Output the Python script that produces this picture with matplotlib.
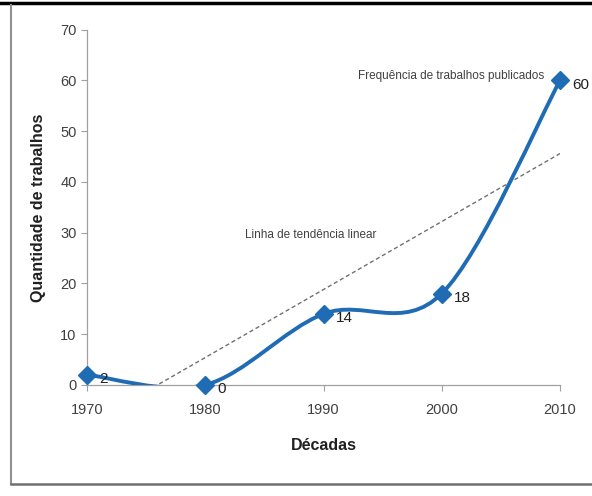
import numpy as np
import matplotlib
matplotlib.use("Agg")
import matplotlib.pyplot as plt
from matplotlib.path import Path
from matplotlib.patches import PathPatch
from matplotlib.lines import Line2D

decadas = [1970, 1980, 1990, 2000, 2010]
trabalhos = [2, 0, 14, 18, 60]
rotulos = ["2", "0", "14", "18", "60"]

plt.rcParams['font.family'] = ['Liberation Sans Narrow', 'Liberation Sans', 'DejaVu Sans']

azul = "#1F6CB5"
cinza = "#404040"

fig = plt.figure(figsize=(5.92, 4.96), dpi=100)
ax = fig.add_axes([0.147, 0.224, 0.799, 0.716])

x = np.array(decadas, dtype=float)
y = np.array(trabalhos, dtype=float)

# curva suavizada (bezier cubica, estilo Excel)
verts = [(x[0], y[0])]
codes = [Path.MOVETO]
n = len(x)
for i in range(n - 1):
    p0 = np.array([x[max(i - 1, 0)], y[max(i - 1, 0)]])
    p1 = np.array([x[i], y[i]])
    p2 = np.array([x[i + 1], y[i + 1]])
    p3 = np.array([x[min(i + 2, n - 1)], y[min(i + 2, n - 1)]])
    c1 = p1 + (p2 - p0) / 6.0
    c2 = p2 - (p3 - p1) / 6.0
    verts += [tuple(c1), tuple(c2), tuple(p2)]
    codes += [Path.CURVE4] * 3
curva = PathPatch(Path(verts, codes), facecolor="none", edgecolor=azul, lw=2.8, zorder=3)
ax.add_patch(curva)
ax.plot(x, y, linestyle="none", marker="D", markersize=9, color=azul, zorder=4, clip_on=False)

# linha de tendencia linear
coef = np.polyfit(np.arange(n), y, 1)
xt = np.linspace(0, n - 1, 200)
ax.plot(x[0] + xt * 10, np.polyval(coef, xt), linestyle="--", color="#707070", lw=1.0,
        dashes=(3, 2), zorder=2)

for xi, yi, r in zip(x, y, rotulos):
    ax.annotate(r, (xi, yi), xytext=(9, -3), textcoords="offset points", fontsize=11,
                color="#202020", va="center", ha="left")

ax.text(1983.4, 29.5, "Linha de tendência linear", fontsize=8.5, color=cinza, ha="left", va="center")
ax.text(2008.7, 60.8, "Frequência de trabalhos publicados", fontsize=8.5, color=cinza, ha="right", va="center")

ax.set_xlim(1970, 2010)
ax.set_ylim(0, 70)
ax.set_xticks(decadas)
ax.set_yticks(range(0, 71, 10))
ax.tick_params(colors="#A0A0A0", labelcolor=cinza, labelsize=10.5, length=4, width=0.8)
ax.tick_params(axis="x", pad=9)
for s in ["top", "right"]:
    ax.spines[s].set_visible(False)
for s in ["left", "bottom"]:
    ax.spines[s].set_color("#A0A0A0")
    ax.spines[s].set_linewidth(0.9)

ax.set_xlabel("Décadas", fontsize=11.5, fontweight="bold", color="#202020",
              family=['Liberation Sans', 'DejaVu Sans'], labelpad=15)
ax.set_ylabel("Quantidade de trabalhos", fontsize=11.5, fontweight="bold", color="#202020",
              family=['Liberation Sans', 'DejaVu Sans'], labelpad=10)

# moldura
fig.add_artist(Line2D([0, 1], [0.994, 0.994], color="black", lw=2.5, transform=fig.transFigure))
fig.add_artist(Line2D([0.018, 0.018], [0.024, 0.99], color="#909090", lw=1.5, transform=fig.transFigure))
fig.add_artist(Line2D([0.018, 1], [0.024, 0.024], color="#707070", lw=1.8, transform=fig.transFigure))

fig.savefig("out.png", dpi=100)
